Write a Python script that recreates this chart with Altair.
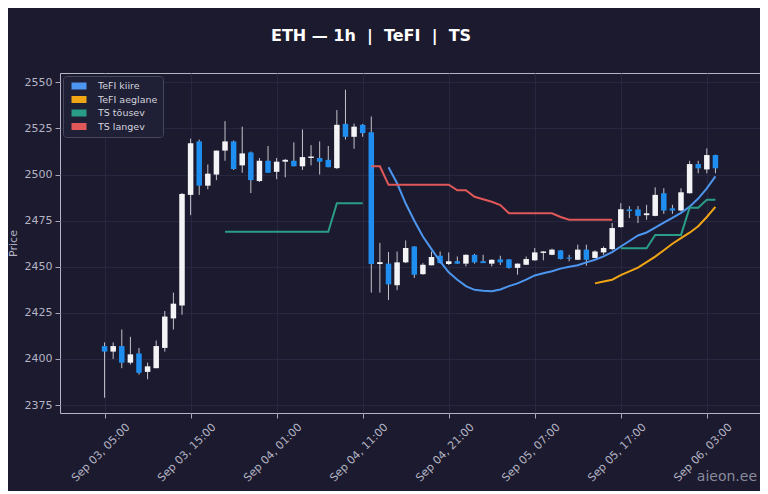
import altair as alt
import pandas as pd

# ---------------- data ----------------
start = "2024-09-03 05:00"
n_candles = 72
times = pd.date_range(start, periods=n_candles, freq="h")
t_str = [t.strftime("%Y-%m-%dT%H:%M:%SZ") for t in times]

opens = [2407, 2404, 2407, 2398, 2403, 2393, 2395, 2406, 2422, 2429,
         2489, 2518, 2494, 2500, 2513, 2518, 2505, 2512, 2496.5, 2507.5,
         2501.5, 2507, 2507.5, 2504.5, 2509, 2509, 2508, 2503.5, 2527.5, 2520.5,
         2527, 2523, 2451.5, 2451.7, 2440, 2452.4, 2461, 2446, 2450.8, 2456,
         2451.5, 2453, 2451.7, 2456.5, 2453, 2451.7, 2454, 2454, 2449.4, 2451.1,
         2453.5, 2457.5, 2456.5, 2458.9, 2455, 2453.8, 2459.3, 2454.8, 2457.8, 2459.6,
         2471.5, 2481.1, 2481.1, 2478, 2477.6, 2489.9, 2481.7, 2480.5, 2489.9, 2505.7,
         2502.8, 2510.6]
highs = [2409, 2409, 2416, 2412, 2406, 2398, 2410, 2426, 2436, 2490,
         2519.5, 2519, 2505.5, 2513, 2529, 2518.5, 2526, 2512.5, 2509, 2515.5,
         2509, 2508.5, 2517.5, 2524.5, 2516, 2518, 2515.5, 2535, 2546, 2527.7,
         2527.5, 2531.5, 2463, 2458, 2458.3, 2464.3, 2461.2, 2452, 2458.3, 2458.3,
         2457.8, 2455.6, 2456.7, 2457, 2456.5, 2454, 2456, 2454.2, 2451.8, 2455.6,
         2460.2, 2458.5, 2459.8, 2459, 2456.5, 2462, 2462, 2459, 2461, 2473.7,
         2484.5, 2482.9, 2482.9, 2483.6, 2493.1, 2492.6, 2483.6, 2492.6, 2507.5, 2507.5,
         2514.2, 2510.8]
lows = [2379, 2400, 2395, 2397, 2391.5, 2389, 2395, 2404, 2416, 2424,
        2478, 2489, 2492, 2497, 2507.5, 2502.5, 2501, 2490, 2496, 2501,
        2497.5, 2498.5, 2504.5, 2502.5, 2505, 2500, 2504, 2503, 2519, 2514,
        2520.5, 2436, 2436, 2432, 2437.3, 2452, 2444, 2445.7, 2450.8, 2451.8,
        2451, 2451.5, 2450.2, 2451.7, 2452, 2450.2, 2451, 2449, 2445.7, 2451,
        2453.3, 2453.5, 2456.3, 2454, 2453, 2453.6, 2450.6, 2454.6, 2456.5, 2459,
        2471.3, 2476.4, 2473.7, 2475.5, 2477.4, 2478.7, 2478.7, 2480, 2489.7, 2500.7,
        2500.7, 2500.7]
closes = [2404, 2407, 2398, 2402.5, 2392.5, 2396, 2407, 2423, 2430, 2489.5,
          2517, 2494, 2500.5, 2513, 2518, 2503, 2511.5, 2497, 2507.5, 2501,
          2507, 2508, 2504.5, 2509.5, 2509.8, 2507, 2504, 2527, 2520.5, 2526,
          2522.5, 2451.5, 2452.5, 2440.5, 2452.4, 2460.2, 2445.7, 2451.1, 2455.3, 2452,
          2453, 2451.7, 2456.5, 2452.4, 2452, 2453.8, 2452.4, 2449.4, 2451.7, 2454.2,
          2457.8, 2458.3, 2459.3, 2454.2, 2454.4, 2459.3, 2453.8, 2458.3, 2460.2, 2471,
          2481.2, 2480.2, 2477.6, 2479, 2489, 2480.5, 2480.5, 2490.4, 2505.7, 2503.4,
          2510.6, 2503.4]

# indicator series: (first candle index, values)
tefi_kiire_start = 33
tefi_kiire = [2504, 2495.3, 2484.3, 2475, 2466.4, 2459.6, 2452.9, 2447, 2443, 2439.5,
              2437.5, 2437, 2436.7, 2437.7, 2439.5, 2441, 2443, 2445.3, 2446.5, 2447.6,
              2449, 2450, 2450.8, 2452.4, 2453.8, 2455.6, 2458, 2461, 2464, 2467,
              2468.6, 2471.2, 2474, 2476.5, 2479.2, 2482.6, 2487, 2492.5, 2499]
tefi_aeglane_start = 57
tefi_aeglane = [2441, 2442, 2443, 2445.5, 2447.5, 2449.5, 2452.5, 2455.5, 2459, 2462.5,
                2465.5, 2468.5, 2472, 2477, 2482.5]
ts_tousev_a_start = 14
ts_tousev_a = [2469, 2469, 2469, 2469, 2469, 2469, 2469, 2469, 2469, 2469,
               2469, 2469, 2469, 2484.5, 2484.5, 2484.5, 2484.5]
ts_tousev_b_start = 60
ts_tousev_b = [2460, 2460, 2460, 2460, 2467.3, 2467.3, 2467.3, 2467.3, 2482, 2482,
               2486.3, 2486.3]
ts_langev_start = 31
ts_langev = [2504.5, 2504.5, 2494.5, 2494.5, 2494.5, 2494.5, 2494.5, 2494.5, 2494.5, 2494.5,
             2491.5, 2491.5, 2488, 2486.6, 2485.3, 2483.5, 2479, 2479, 2479, 2479,
             2479, 2479, 2477, 2475.5, 2475.5, 2475.5, 2475.5, 2475.5, 2475.5]

series_names = ["TeFI kiire", "TeFI aeglane", "TS tõusev", "TS langev"]
series_colors = ["#4d96f0", "#f0a514", "#2a9d86", "#e05858"]

tick_labels_idx = [0, 10, 20, 30, 40, 50, 60, 70]
y_ticks = [2375, 2400, 2425, 2450, 2475, 2500, 2525, 2550]

# ---------------- tables ----------------
candles = pd.DataFrame({"t": t_str, "open": opens, "high": highs,
                        "low": lows, "close": closes})

rows = []
def add(name, seg, s0, vals):
    for i, v in enumerate(vals):
        rows.append({"t": t_str[s0 + i], "value": v, "series": name, "seg": seg})

add("TeFI kiire", "k", tefi_kiire_start, tefi_kiire)
add("TeFI aeglane", "a", tefi_aeglane_start, tefi_aeglane)
add("TS tõusev", "u1", ts_tousev_a_start, ts_tousev_a)
add("TS tõusev", "u2", ts_tousev_b_start, ts_tousev_b)
add("TS langev", "d", ts_langev_start, ts_langev)
lines = pd.DataFrame(rows)

def dt(ts, minutes=0):
    return alt.DateTime(year=ts.year, month=ts.month, date=ts.day,
                        hours=ts.hour, minutes=minutes, utc=True)

tick_values = [dt(times[i]) for i in tick_labels_idx]
dom_lo = times[0] - pd.Timedelta(minutes=276)
dom_hi = times[-1] + pd.Timedelta(minutes=276)
x_scale = alt.Scale(type="utc", domain=[dt(dom_lo, dom_lo.minute), dt(dom_hi, dom_hi.minute)])
x_axis = alt.Axis(values=tick_values,
                  labelExpr="utcFormat(datum.value, '%b %d, %H:%M')",
                  labelAngle=-45, labelOffset=19, title=None)
y_scale = alt.Scale(domain=[2370.7, 2555.1], nice=False, zero=False)
y_axis = alt.Axis(values=y_ticks, title="Price", format="d", titlePadding=6)

X = alt.X("t:T", scale=x_scale, axis=x_axis, title=None)

wicks = alt.Chart(candles).mark_rule(color="#c4c4cc", strokeWidth=1).encode(
    x=X,
    y=alt.Y("low:Q", scale=y_scale, axis=y_axis, title="Price"),
    y2="high:Q",
)
bodies = alt.Chart(candles).mark_bar(size=5.5).encode(
    x=X,
    y=alt.Y("open:Q", scale=y_scale, axis=y_axis, title="Price"),
    y2="close:Q",
    color=alt.condition("datum.close >= datum.open",
                        alt.value("#f4f4f6"), alt.value("#1e8ff0")),
)
ind = alt.Chart(lines).mark_line(strokeWidth=2).encode(
    x=X,
    y=alt.Y("value:Q", scale=y_scale, axis=y_axis, title="Price"),
    color=alt.Color("series:N",
                    scale=alt.Scale(domain=series_names, range=series_colors),
                    legend=alt.Legend(title=None, orient="top-left", offset=3,
                                      symbolType="stroke", symbolSize=225,
                                      symbolStrokeWidth=7, labelFontSize=9.5,
                                      labelColor="#d4d4dc", labelFont="DejaVu Sans",
                                      fillColor="#1f1f36", strokeColor="#45455c",
                                      padding=5, cornerRadius=3, rowPadding=3.5,
                                      clipHeight=10, labelOffset=8)),
    detail="seg:N",
)
mark_txt = alt.Chart(pd.DataFrame({"label": ["aieon.ee"]})).mark_text(
    align="right", baseline="alphabetic", fontSize=14, color="#8a8a9c",
    font="DejaVu Sans").encode(text="label:N", x=alt.value(697), y=alt.value(408))

chart = alt.layer(wicks, bodies, ind, mark_txt).properties(
    width=700, height=340,
    autosize=alt.AutoSizeParams(type="none"),
    padding={"left": 52, "top": 65, "right": 0, "bottom": 78},
    background="#1b1a2e",
    title=alt.TitleParams("ETH — 1h \u00a0|\u00a0 TeFI \u00a0|\u00a0 TS", fontSize=16,
                          fontWeight="bold", color="#ffffff", font="DejaVu Sans",
                          anchor="middle", dx=-39, offset=29),
).configure_view(
    stroke="#b4b4c4", strokeWidth=1, fill="#1b1a2e"
).configure_axis(
    grid=True, gridColor="#2b2b46", gridWidth=0.8, domain=False,
    tickColor="#a8a8b8", tickSize=5, labelColor="#b4b4c4", labelFontSize=11,
    labelFont="DejaVu Sans", titleColor="#b4b4c4", titleFontSize=11,
    titleFont="DejaVu Sans", titleFontWeight="normal", labelPadding=3,
)

chart.save("out.html", embed_options={"renderer": "svg", "actions": False})
